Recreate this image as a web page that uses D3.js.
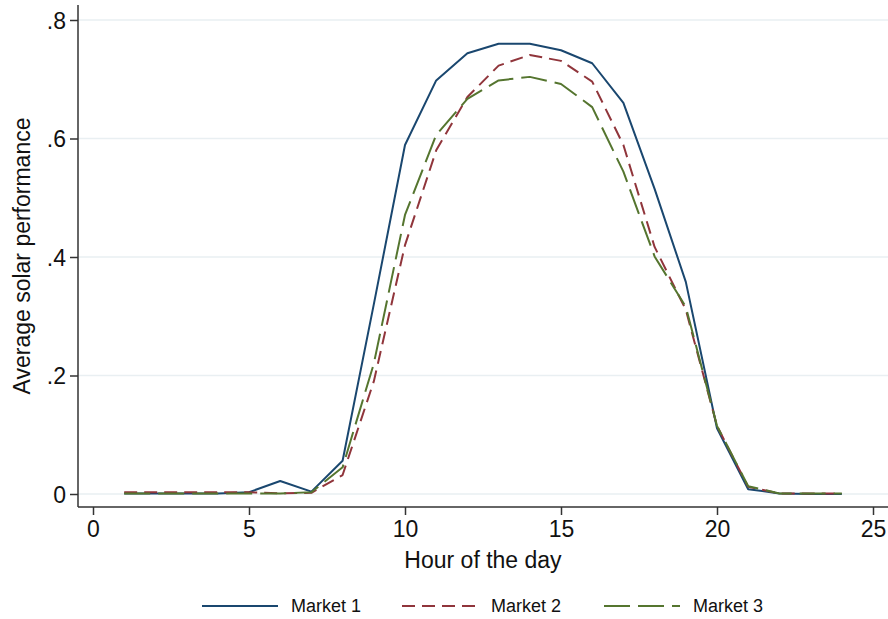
<!DOCTYPE html>
<html>
<head>
<meta charset="utf-8">
<script src="https://cdn.jsdelivr.net/npm/d3@7"></script>
<style>
  body { margin: 0; background: #fff; }
  text { font-family: "Liberation Sans", Arial, sans-serif; fill: #111; }
</style>
</head>
<body>
<div id="chart"></div>
<script>
// hour of the day
var hours = [1,2,3,4,5,6,7,8,9,10,11,12,13,14,15,16,17,18,19,20,21,22,23,24];

// average solar performance per market
var market1 = [0.001,0.001,0.001,0.001,0.003,0.022,0.004,0.056,0.320,0.589,0.698,0.744,
               0.760,0.760,0.749,0.727,0.660,0.515,0.358,0.111,0.008,0.001,0.000,0.000];
var market2 = [0.003,0.003,0.003,0.003,0.003,0.001,0.002,0.032,0.190,0.420,0.580,0.670,
               0.723,0.741,0.731,0.696,0.589,0.417,0.311,0.115,0.012,0.001,0.001,0.001];
var market3 = [0.001,0.001,0.001,0.001,0.001,0.001,0.003,0.045,0.220,0.471,0.606,0.667,
               0.698,0.704,0.692,0.653,0.544,0.401,0.316,0.115,0.013,0.001,0.001,0.001];

var seriesNames = ["Market 1", "Market 2", "Market 3"];
var xTicks = [0, 5, 10, 15, 20, 25];
var yTicks = [0, 0.2, 0.4, 0.6, 0.8];
var yTickLabels = ["0", ".2", ".4", ".6", ".8"];

var width = 888, height = 619;
var plot = {left: 78, right: 888, top: 5, bottom: 507};

var svg = d3.select("#chart").append("svg")
    .attr("width", width)
    .attr("height", height);

var x = d3.scaleLinear().domain([0, 25]).range([93, 873]);
var y = d3.scaleLinear().domain([0, 0.8]).range([494, 20]);

// gridlines
svg.append("g").selectAll("line")
    .data(yTicks)
    .enter().append("line")
    .attr("x1", plot.left).attr("x2", plot.right)
    .attr("y1", function(d){ return y(d); })
    .attr("y2", function(d){ return y(d); })
    .attr("stroke", "#e9eff2")
    .attr("stroke-width", 1.5);

// lines
var styles = [
    {color: "#1a476f", dash: null},
    {color: "#90353b", dash: "13,7"},
    {color: "#55752f", dash: "26,8"}
];
var allSeries = [market1, market2, market3];

var line = d3.line()
    .x(function(d){ return x(d[0]); })
    .y(function(d){ return y(d[1]); });

allSeries.forEach(function(vals, i){
    var pts = hours.map(function(h, j){ return [h, vals[j]]; });
    svg.append("path")
        .datum(pts)
        .attr("d", line)
        .attr("fill", "none")
        .attr("stroke", styles[i].color)
        .attr("stroke-width", 2)
        .attr("stroke-linejoin", "round")
        .attr("stroke-dasharray", styles[i].dash);
});

// y axis
var yAxis = d3.axisLeft(y)
    .tickValues(yTicks)
    .tickSize(8)
    .tickPadding(4)
    .tickFormat(function(d, i){ return yTickLabels[i]; });

var gy = svg.append("g")
    .attr("transform", "translate(" + plot.left + ",0)")
    .call(yAxis);
gy.select(".domain").remove();
gy.append("line")
    .attr("x1", 0).attr("x2", 0)
    .attr("y1", plot.top).attr("y2", plot.bottom)
    .attr("stroke", "#333").attr("stroke-width", 1.5);
gy.selectAll(".tick line").attr("stroke", "#333").attr("stroke-width", 1.5);
gy.selectAll(".tick text")
    .style("font-size", "23px")
    .attr("fill", "#111")
    .attr("dy", "0.35em");

// x axis
var xAxis = d3.axisBottom(x)
    .tickValues(xTicks)
    .tickSize(8)
    .tickPadding(6);

var gx = svg.append("g")
    .attr("transform", "translate(0," + plot.bottom + ")")
    .call(xAxis);
gx.select(".domain").remove();
gx.append("line")
    .attr("x1", plot.left).attr("x2", plot.right)
    .attr("y1", 0).attr("y2", 0)
    .attr("stroke", "#333").attr("stroke-width", 1.5);
gx.selectAll(".tick line").attr("stroke", "#333").attr("stroke-width", 1.5);
gx.selectAll(".tick text")
    .style("font-size", "23px")
    .attr("fill", "#111");

// axis titles
svg.append("text")
    .attr("x", (plot.left + plot.right) / 2)
    .attr("y", 568)
    .attr("text-anchor", "middle")
    .style("font-size", "23px")
    .text("Hour of the day");

svg.append("text")
    .attr("transform", "translate(30," + ((plot.top + plot.bottom) / 2) + ") rotate(-90)")
    .attr("text-anchor", "middle")
    .style("font-size", "23px")
    .text("Average solar performance");

// legend
var legendX = [202, 402, 604];
var legend = svg.append("g");
seriesNames.forEach(function(name, i){
    legend.append("line")
        .attr("x1", legendX[i]).attr("x2", legendX[i] + 76)
        .attr("y1", 606).attr("y2", 606)
        .attr("stroke", styles[i].color)
        .attr("stroke-width", 2)
        .attr("stroke-dasharray", styles[i].dash);
    legend.append("text")
        .attr("x", legendX[i] + 89)
        .attr("y", 612)
        .style("font-size", "18px")
        .text(name);
});
</script>
</body>
</html>
